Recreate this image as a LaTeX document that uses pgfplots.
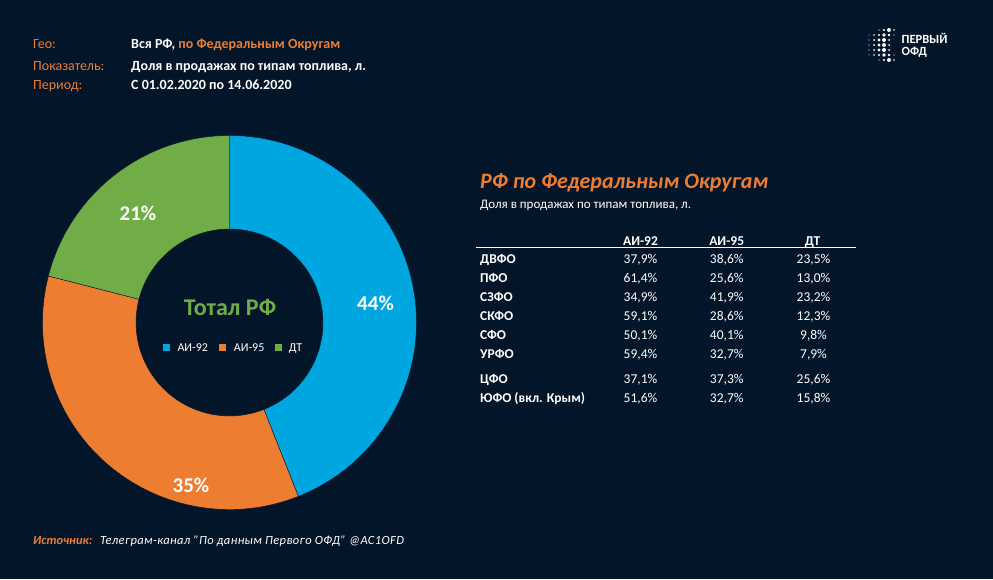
\documentclass[border=0pt]{standalone}
\usepackage{fontspec}
\setmainfont{Carlito}
\usepackage{pgfplots}
\usepackage{pgfplotstable}
\pgfplotsset{compat=1.18}
\definecolor{bgc}{HTML}{021529}
\definecolor{piebl}{HTML}{00A6E0}
\definecolor{pieor}{HTML}{ED7D31}
\definecolor{piegr}{HTML}{70AD47}
\definecolor{orng}{HTML}{ED7D31}

\pgfplotstableread{
fuel value
A92 44
A95 35
DT 21
}\piedata

\newcommand\Ro{187}
\newcommand\Ri{93.5}
\newcommand\donutsector[3]{%
  \fill[#3, draw=bgc, line width=0.4pt]
    (axis cs:{\Ro*cos(#1)},{\Ro*sin(#1)})
    arc[start angle=#1, end angle=#2, radius=\Ro pt]
    -- (axis cs:{\Ri*cos(#2)},{\Ri*sin(#2)})
    arc[start angle=#2, end angle=#1, radius=\Ri pt] -- cycle;}

\newcommand\fs[1]{\fontsize{#1}{#1}\selectfont}

\begin{document}
\begin{tikzpicture}[x=1pt,y=1pt]
\fill[bgc] (0,0) rectangle (993,579);

\pgfplotstablegetelem{0}{value}\of\piedata \edef\va{\pgfplotsretval}
\pgfplotstablegetelem{1}{value}\of\piedata \edef\vb{\pgfplotsretval}
\pgfplotstablegetelem{2}{value}\of\piedata \edef\vc{\pgfplotsretval}
\pgfmathsetmacro\aA{90}
\pgfmathsetmacro\aB{\aA-3.6*\va}
\pgfmathsetmacro\aC{\aB-3.6*\vb}
\pgfmathsetmacro\aD{\aC-3.6*\vc}

\begin{axis}[at={(229.5,256.5)}, anchor=center, scale only axis,
  width=374pt, height=374pt, xmin=-187, xmax=187, ymin=-187, ymax=187,
  hide axis, clip=false]
  \donutsector{\aA}{\aB}{piebl}
  \donutsector{\aB}{\aC}{pieor}
  \donutsector{\aC}{\aD}{piegr}
\end{axis}

% slice labels
\node[anchor=base, white, font=\fs{21}\bfseries, inner sep=0] at (375.5,579-310) {44\%};
\node[anchor=base, white, font=\fs{21}\bfseries, inner sep=0] at (191,579-492) {35\%};
\node[anchor=base, white, font=\fs{21}\bfseries, inner sep=0] at (138,579-220.7) {21\%};

% centre
\node[anchor=base, piegr, font=\fs{24}\bfseries, inner sep=0] at (230,579-316) {Тотал РФ};
\fill[piebl] (163.3,579-350.7) rectangle ++(7,7);
\node[anchor=base west, white, font=\fs{12}, inner sep=0] at (177.3,579-351) {АИ-92};
\fill[pieor] (219.3,579-350.7) rectangle ++(7,7);
\node[anchor=base west, white, font=\fs{12}, inner sep=0] at (233.7,579-351) {АИ-95};
\fill[piegr] (275,579-350.7) rectangle ++(7,7);
\node[anchor=base west, white, font=\fs{12}, inner sep=0] at (288.7,579-351) {ДТ};

% header
\node[anchor=base west, orng, font=\fs{14}, inner sep=0] at (33,579-49) {Гео:};
\node[anchor=base west, orng, font=\fs{14}, inner sep=0] at (33,579-70.7) {Показатель:};
\node[anchor=base west, orng, font=\fs{14}, inner sep=0] at (33,579-89.3) {Период:};
\node[anchor=base west, white, font=\fs{14}\bfseries, inner sep=0] at (131,579-49) {Вся РФ, \textcolor{orng}{по Федеральным Округам}};
\node[anchor=base west, white, font=\fs{14}\bfseries, inner sep=0] at (131,579-70.7) {Доля в продажах по типам топлива, л.};
\node[anchor=base west, white, font=\fs{14}\bfseries, inner sep=0] at (131,579-89.3) {С 01.02.2020 по 14.06.2020};

% logo
\foreach \px/\py/\r in {
  879/30/0.6, 884/30/1.2, 889/30/2.0, 894/30/0.8,
  869/35/0.5, 874/35/0.8, 879/35/1.2, 884/35/1.8, 889/35/1.4, 894/35/0.6,
  869/40/0.6, 874/40/1.0, 879/40/1.6, 884/40/2.0, 889/40/1.0,
  869/45/0.6, 874/45/1.0, 879/45/1.6, 884/45/2.0, 889/45/1.0,
  869/50/0.6, 874/50/1.0, 879/50/1.6, 884/50/2.0, 889/50/1.0,
  869/55/0.5, 874/55/0.8, 879/55/1.2, 884/55/1.8, 889/55/1.4, 894/55/0.6,
  879/60/0.6, 884/60/1.2, 889/60/2.0, 894/60/0.8}
  {\fill[white] (\px,579-\py) circle[radius=\r];}
\node[anchor=base west, white, font=\fs{12.5}\bfseries, inner sep=0] at (901.5,579-44) {ПЕРВЫЙ};
\node[anchor=base west, white, font=\fs{12.5}\bfseries, inner sep=0] at (901.5,579-55.7) {ОФД};

% right table
\node[anchor=base west, orng, font=\fs{22}\bfseries\itshape, inner sep=0] at (480,579-189) {РФ по Федеральным Округам};
\node[anchor=base west, white, font=\fs{13}, inner sep=0] at (480,579-209) {Доля в продажах по типам топлива, л.};
\node[anchor=base, white, font=\fs{13.5}\bfseries, inner sep=0] at (640.5,579-245.3) {АИ-92};
\node[anchor=base, white, font=\fs{13.5}\bfseries, inner sep=0] at (726.7,579-245.3) {АИ-95};
\node[anchor=base, white, font=\fs{13.5}\bfseries, inner sep=0] at (812.5,579-245.3) {ДТ};
\draw[white, line width=1.5pt] (476,579-247.5) -- (856,579-247.5);

\foreach \yy/\nm/\a/\b/\c in {
  {264/ДВФО/37,9/38,6/23,5},
  {283/ПФО/61,4/25,6/13,0},
  {301.7/СЗФО/34,9/41,9/23,2},
  {320.7/СКФО/59,1/28,6/12,3},
  {339.7/СФО/50,1/40,1/9,8},
  {358.7/УРФО/59,4/32,7/7,9},
  {383/ЦФО/37,1/37,3/25,6},
  {402.3/ЮФО (вкл. Крым)/51,6/32,7/15,8}}
{
  \node[anchor=base west, white, font=\fs{13.5}\bfseries, inner sep=0] at (480,579-\yy) {\nm};
  \node[anchor=base, white, font=\fs{13.5}, inner sep=0] at (640.5,579-\yy) {\a\%};
  \node[anchor=base, white, font=\fs{13.5}, inner sep=0] at (726.7,579-\yy) {\b\%};
  \node[anchor=base, white, font=\fs{13.5}, inner sep=0] at (813.5,579-\yy) {\c\%};
}

% source
\node[anchor=base west, orng, font=\fs{12.5}\bfseries\itshape, inner sep=0] at (33,579-544) {Источник:};
\node[anchor=base west, white, font=\fs{12.5}\itshape\addfontfeature{LetterSpace=3.2}, inner sep=0] at (100,579-544) {Телеграм-канал "По данным Первого ОФД" @AC1OFD};
\end{tikzpicture}
\end{document}
